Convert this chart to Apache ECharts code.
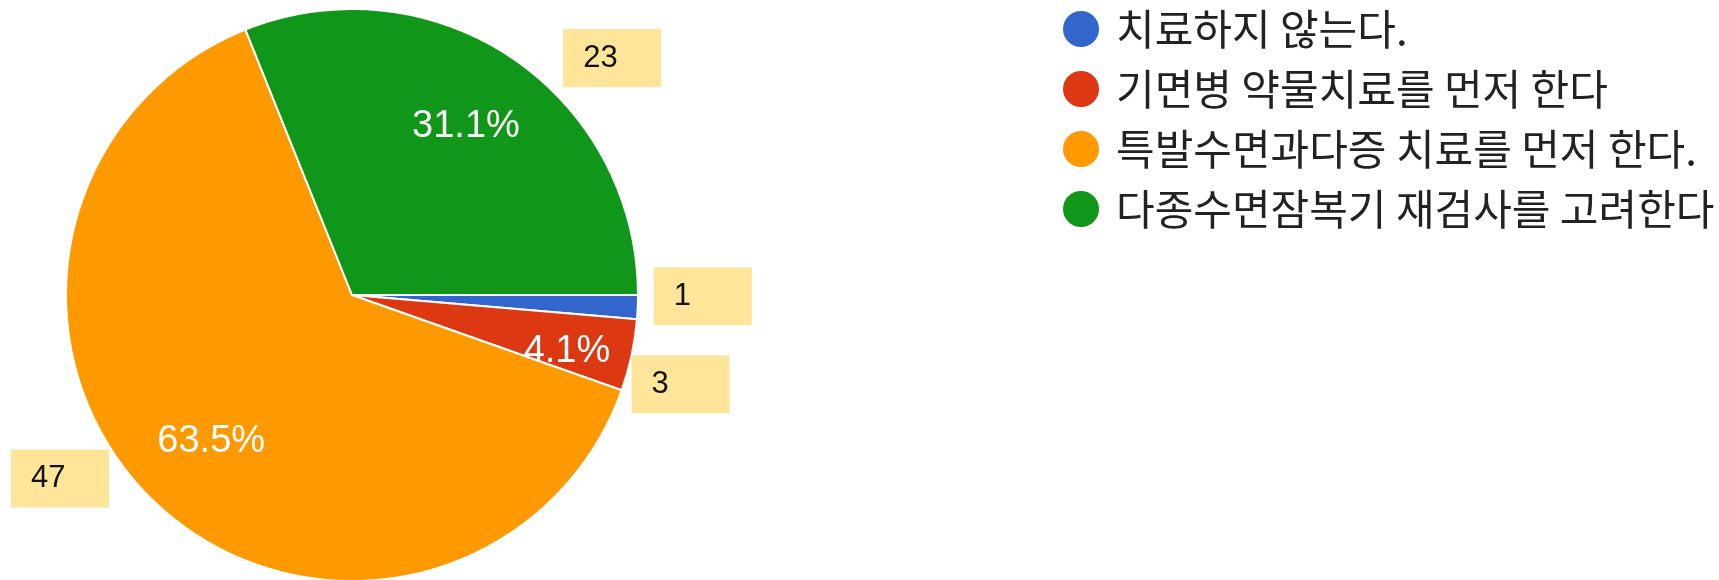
<!DOCTYPE html>
<html>
<head>
<meta charset="utf-8">
<script src="https://cdn.jsdelivr.net/npm/echarts@6/dist/echarts.min.js"></script>
<style>
  html, body { margin: 0; padding: 0; background: #fff; }
  #chart { width: 1719px; height: 580px; }
</style>
</head>
<body>
<div id="chart"></div>
<script>
// Datos de la encuesta
const categorias = ['치료하지 않는다.', '기면병 약물치료를 먼저 한다', '특발수면과다증 치료를 먼저 한다.', '다종수면잠복기 재검사를 고려한다'];
const respuestas = [1, 3, 47, 23];
const colores = ['#3366cc', '#dc3912', '#ff9900', '#109618'];

// Desplazamiento de las etiquetas (cuadros amarillos y porcentajes)
const despValores = [[11, -11], [-5, 29], [-40, -23], [46, 0]];
const despPorcentajes = [[0, 0], [16, 14], [0, 0], [0, 0]];

const total = respuestas.reduce((a, b) => a + b, 0);
const datos = categorias.map((c, i) => ({ name: c, value: respuestas[i] }));

const grafico = echarts.init(document.getElementById('chart'));
grafico.setOption({
    animation: false,
    color: colores,
    legend: {
        data: categorias,
        orient: 'vertical',
        left: 1056,
        top: 3,
        icon: 'circle',
        itemWidth: 60,
        itemHeight: 38,
        itemGap: 18,
        selectedMode: false,
        textStyle: {
            fontFamily: 'Noto Sans CJK KR',
            fontSize: 42,
            lineHeight: 38,
            color: '#222'
        }
    },
    series: [
        {
            // Pastel principal con los valores en cuadros
            type: 'pie',
            center: [352, 295],
            radius: [0, 286],
            startAngle: 0,
            clockwise: true,
            avoidLabelOverlap: false,
            silent: true,
            data: datos,
            itemStyle: { borderColor: '#fff', borderWidth: 2 },
            label: {
                show: true,
                position: 'outside',
                formatter: '{v|{c}}',
                backgroundColor: '#ffe599',
                padding: [13, 0, 13, 20],
                rich: {
                    v: {
                        fontFamily: 'Liberation Sans',
                        fontSize: 31,
                        color: '#111',
                        width: 78,
                        lineHeight: 32,
                        align: 'left'
                    }
                }
            },
            labelLine: { show: false, length: 0, length2: 0 },
            labelLayout: function (p) {
                const d = despValores[p.dataIndex];
                return { dx: d[0], dy: d[1] };
            }
        },
        {
            // Anillo transparente solo para los porcentajes
            type: 'pie',
            center: [352, 295],
            radius: [115, 286],
            startAngle: 0,
            clockwise: true,
            silent: true,
            data: datos,
            itemStyle: { color: 'rgba(0,0,0,0)' },
            label: {
                show: true,
                position: 'inside',
                formatter: function (p) {
                    const pct = p.value / total * 100;
                    return pct < 2 ? '' : pct.toFixed(1) + '%';
                },
                fontFamily: 'Liberation Sans',
                fontSize: 38,
                color: '#fff'
            },
            labelLine: { show: false },
            labelLayout: function (p) {
                const d = despPorcentajes[p.dataIndex];
                return { dx: d[0], dy: d[1] };
            }
        }
    ]
});
</script>
</body>
</html>
